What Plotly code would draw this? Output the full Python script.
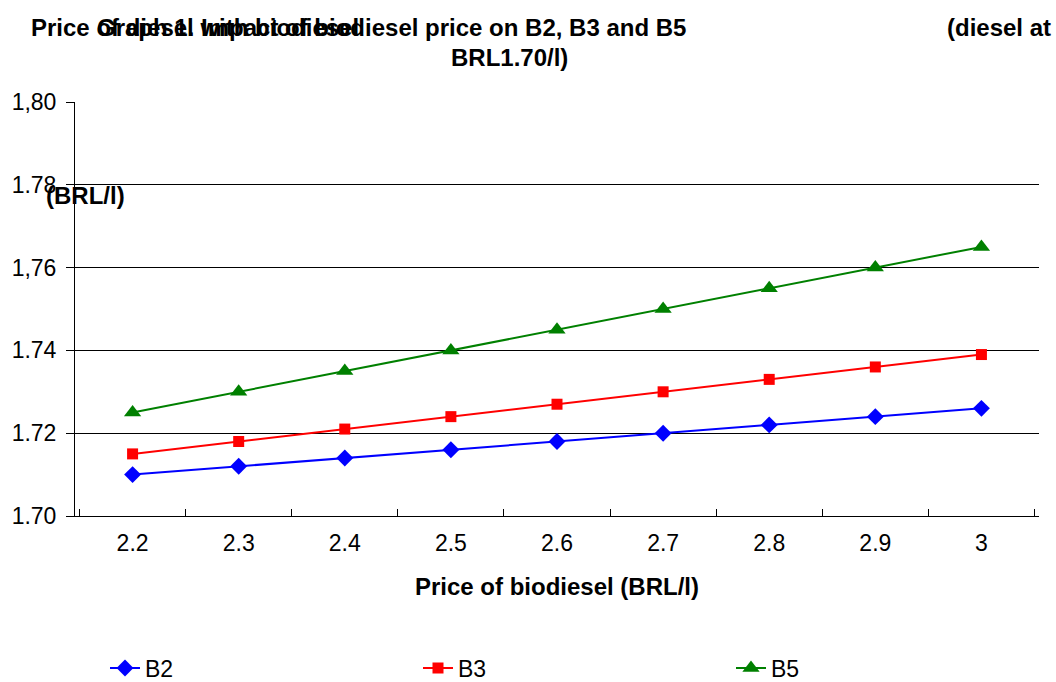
import plotly.graph_objects as go

biodiesel_price = ["2.2", "2.3", "2.4", "2.5", "2.6", "2.7", "2.8", "2.9", "3"]
b2 = [1.710, 1.712, 1.714, 1.716, 1.718, 1.720, 1.722, 1.724, 1.726]
b3 = [1.715, 1.718, 1.721, 1.724, 1.727, 1.730, 1.733, 1.736, 1.739]
b5 = [1.725, 1.730, 1.735, 1.740, 1.745, 1.750, 1.755, 1.760, 1.765]
y_tickvals = [1.70, 1.72, 1.74, 1.76, 1.78, 1.80]
y_ticktext = ["1.70", "1.72", "1.74", "1,76", "1.78", "1,80"]

FONT = "Arial, 'Liberation Sans', sans-serif"
W, H = 1056, 682
L, R, T, B = 75, 17, 102, 166
PW = W - L - R
PH = H - T - B

def px(x):
    return (x - L) / PW

def py(y):
    return (H - B - y) / PH

fig = go.Figure()
fig.add_trace(go.Scatter(x=biodiesel_price, y=b2, name="B2", mode="lines+markers",
                         line=dict(color="#0000FF", width=2),
                         marker=dict(symbol="diamond", size=13, color="#0000FF")))
fig.add_trace(go.Scatter(x=biodiesel_price, y=b3, name="B3", mode="lines+markers",
                         line=dict(color="#FF0000", width=2),
                         marker=dict(symbol="square", size=11, color="#FF0000")))
fig.add_trace(go.Scatter(x=biodiesel_price, y=b5, name="B5", mode="lines+markers",
                         line=dict(color="#008000", width=2),
                         marker=dict(symbol="triangle-up", size=15, color="#008000")))

fig.update_layout(
    width=W, height=H,
    margin=dict(l=L, r=R, t=T, b=B, autoexpand=False),
    paper_bgcolor="white", plot_bgcolor="white",
    font=dict(family=FONT, size=23, color="black"),
    showlegend=True,
    legend=dict(orientation="h", x=px(105), y=py(668), xanchor="left", yanchor="middle",
                entrywidth=268, entrywidthmode="pixels",
                font=dict(size=23, family=FONT), bgcolor="rgba(0,0,0,0)",
                itemwidth=30),
)

fig.update_xaxes(
    type="category", tickson="boundaries", ticks="inside", ticklen=7,
    tickcolor="black", showline=True, linecolor="black", linewidth=1,
    showgrid=False, zeroline=False, ticklabelstandoff=6, automargin=False,
    tickfont=dict(size=23, family=FONT),
    title=dict(text="<b>Price of biodiesel (BRL/l)</b>", font=dict(size=24, family=FONT), standoff=23),
)
fig.update_yaxes(
    range=[1.70, 1.80], tickvals=y_tickvals, ticktext=y_ticktext,
    ticks="outside", ticklen=8, tickcolor="black", automargin=False,
    showline=True, linecolor="black", linewidth=1,
    showgrid=True, gridcolor="black", gridwidth=1, zeroline=False,
    ticklabelstandoff=5, tickfont=dict(size=23, family=FONT),
)

anns = [
    dict(text="<b>Price of diesel with biodiesel</b>", x=px(29), y=py(27), xanchor="left"),
    dict(text="<b>(BRL/l)</b>", x=px(44), y=py(195), xanchor="left"),
    dict(text="<b>Graph 1. Impact of biodiesel price on B2, B3 and B5</b>", x=px(95), y=py(27), xanchor="left"),
    dict(text="<b>(diesel at</b>", x=px(945), y=py(27), xanchor="left"),
    dict(text="<b>BRL1.70/l)</b>", x=px(509), y=py(58), xanchor="center"),
]
for a in anns:
    fig.add_annotation(xref="paper", yref="paper", showarrow=False, yanchor="middle",
                       font=dict(size=24, family=FONT, color="black"), **a)

fig.write_html("out.html", config={"displayModeBar": False},
               post_script="document.body.style.margin='0px';document.body.style.overflow='hidden';")
